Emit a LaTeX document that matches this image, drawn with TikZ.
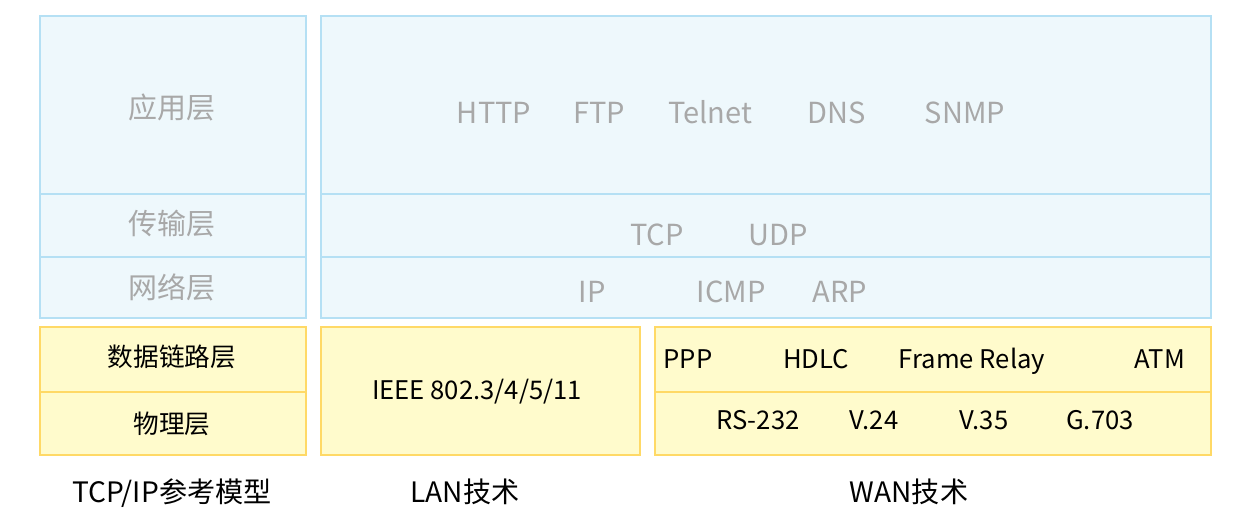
\documentclass[tikz,border=0pt]{standalone}
\usepackage{fontspec}
\setmainfont{Noto Sans}
\newfontfamily\cjk{Noto Sans CJK SC}
\definecolor{bluefill}{HTML}{EEF8FC}
\definecolor{blueline}{HTML}{B5E0F4}
\definecolor{yelfill}{HTML}{FFFBCC}
\definecolor{yelline}{HTML}{FFD966}
\definecolor{greytxt}{HTML}{A8A8A8}
\tikzset{
  bluebox/.style={draw=blueline,fill=bluefill,line width=0.8pt},
  yelbox/.style={draw=yelline,fill=yelfill,line width=0.8pt},
  upper/.style={text=greytxt,font=\fontsize{16.5}{18}\selectfont\cjk,
    text height=12pt,text depth=0pt},
  lower/.style={text=black,font=\fontsize{14.6}{16}\selectfont\cjk,
    text height=10.7pt,text depth=0pt},
  caption/.style={text=black,font=\fontsize{16}{18}\selectfont\cjk,
    text height=11.7pt,text depth=0pt}
}
\begin{document}
\begin{tikzpicture}[x=0.02cm,y=-0.02cm]
        \useasboundingbox (0,0) rectangle (1252,531);
        % upper layers
        \draw[bluebox] (40,16) rectangle (306,318);
        \draw[bluebox] (321,16) rectangle (1211,318);
        \foreach \y in {194,257} {
            \draw[blueline,line width=0.8pt] (40,\y) -- (306,\y);
            \draw[blueline,line width=0.8pt] (321,\y) -- (1211,\y);
        }
        % lower layers
        \draw[yelbox] (40,327) rectangle (306,455);
        \draw[yelbox] (321,327) rectangle (640,455);
        \draw[yelbox] (655,327) rectangle (1211,455);
        \draw[yelline,line width=0.8pt] (40,392) -- (306,392);
        \draw[yelline,line width=0.8pt] (655,392) -- (1211,392);
        % TCP/IP model
        \node[upper] (app) at (172,108) {应用层};
        \node[upper] (trans) at (172,224) {传输层};
        \node[upper] (net) at (172,288) {网络层};
        \node[lower] (link) at (172,357) {数据链路层};
        \node[lower] (phy) at (172,424) {物理层};
        % protocols
        \node[upper] (http) at (494,113) {HTTP};
        \node[upper] (ftp) at (599,113) {FTP};
        \node[upper] (telnet) at (710,113) {Telnet};
        \node[upper] (dns) at (837,113) {DNS};
        \node[upper] (snmp) at (965,113) {SNMP};
        \node[upper] (tcp) at (657,235) {TCP};
        \node[upper] (udp) at (778,235) {UDP};
        \node[upper] (ip) at (592,292) {IP};
        \node[upper] (icmp) at (731,292) {ICMP};
        \node[upper] (arp) at (840,292) {ARP};
        \node[lower] (ieee) at (477,390) {IEEE 802.3/4/5/11};
        \node[lower] (ppp) at (688,359) {PPP};
        \node[lower] (hdlc) at (816,359) {HDLC};
        \node[lower] (fr) at (972,359) {Frame Relay};
        \node[lower] (atm) at (1160,359) {ATM};
        \node[lower] (rs) at (758,420) {RS-232};
        \node[lower] (v24) at (874,420) {V.24};
        \node[lower] (v35) at (984,420) {V.35};
        \node[lower] (g703) at (1100,420) {G.703};
        % captions
        \node[caption] (model) at (172,492) {TCP/IP参考模型};
        \node[caption] (lan) at (465,492) {LAN技术};
        \node[caption] (wan) at (909,492) {WAN技术};
    \end{tikzpicture}
\end{document}
